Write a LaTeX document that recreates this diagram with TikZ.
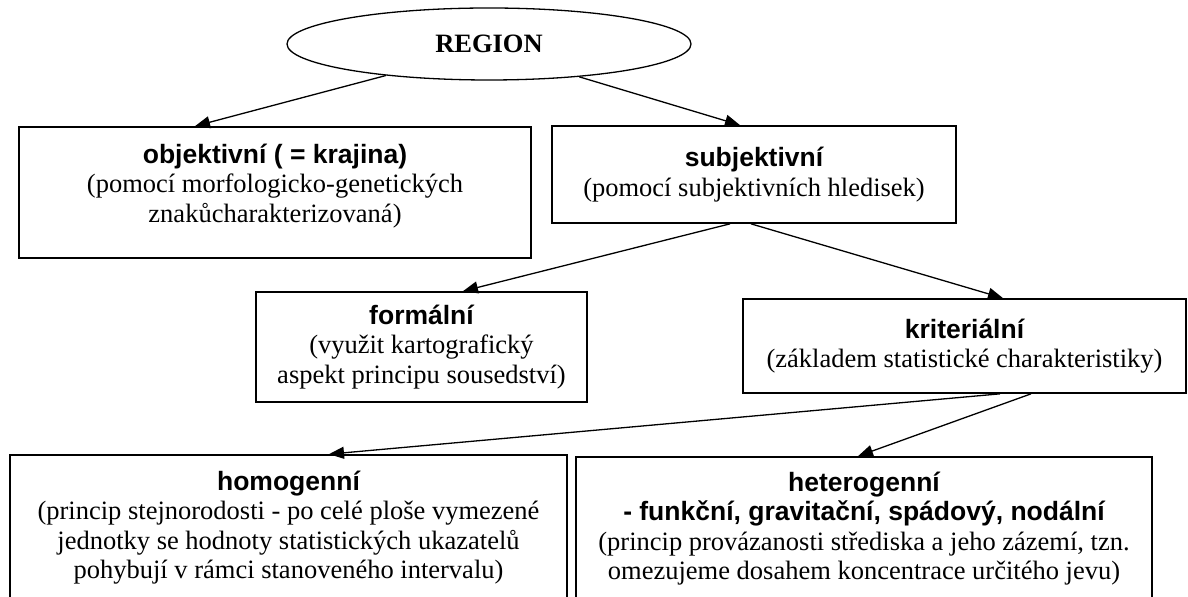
\documentclass[tikz,border=0pt]{standalone}
\usepackage{fontspec}
\setmainfont{Liberation Serif}
\setsansfont{Liberation Sans}
\usetikzlibrary{shapes.geometric,arrows.meta,calc}
\newcommand{\ttl}[1]{{\sffamily\bfseries #1}}

\begin{document}
\begin{tikzpicture}[x=0.5pt,y=-0.5pt]
              \useasboundingbox (0,0) rectangle (1188,597);
              \clip (0,0) rectangle (1188,597);
              \begin{scope}[every node/.style={draw=black, line width=0.85pt, align=center, inner sep=0pt, font=\fontsize{13.25}{14.65}\selectfont}]
                \node[ellipse, line width=0.65pt, minimum width=202pt, minimum height=36pt, font=\fontsize{13.25}{14.65}\selectfont\bfseries] (region) at (489,44) {REGION};
                \node[minimum width=256pt, minimum height=65.5pt, text depth=9.5pt] (objektivni) at (275,192.5) {\ttl{objektivní ( = krajina)}\\(pomocí morfologicko-genetických\\znakůcharakterizovaná)};
                \node[minimum width=202pt, minimum height=48.5pt] (subjektivni) at (754,174.5) {\ttl{subjektivní}\\(pomocí subjektivních hledisek)};
                \node[minimum width=165.5pt, minimum height=55pt] (formalni) at (421.5,347) {\ttl{formální}\\(využit kartografický\\aspekt principu sousedství)};
                \node[minimum width=221.5pt, minimum height=47pt] (kriterialni) at (964.5,346) {\ttl{kriteriální}\\(základem statistické charakteristiky)};
                \node[minimum width=278.5pt, minimum height=72.5pt] (homogenni) at (288.5,527.5) {\ttl{homogenní}\\(princip stejnorodosti - po celé ploše vymezené\\jednotky se hodnoty statistických ukazatelů\\pohybují v rámci stanoveného intervalu)};
                \node[minimum width=288pt, minimum height=71.5pt] (heterogenni) at (864,528.5) {\ttl{heterogenní}\\\ttl{- funkční, gravitační, spádový, nodální}\\(princip provázanosti střediska a jeho zázemí, tzn.\\omezujeme dosahem koncentrace určitého jevu)};
              \end{scope}
              \begin{scope}[every edge/.style={draw=black, line width=0.65pt, -{Triangle[length=7.5pt,width=6pt]}}]
                \path (region.197) edge ($(objektivni.north)+(-80,0)$);
                \path (region.340) edge ($(subjektivni.north)+(-14,0)$);
                \path ($(subjektivni.south)+(-24,0)$) edge ($(formalni.north)+(41.5,0)$);
                \path ($(subjektivni.south)+(-3,0)$) edge ($(kriterialni.north)+(38.5,0)$);
                \path ($(kriterialni.south)+(35.5,0)$) edge ($(homogenni.north)+(40.5,0)$);
                \path ($(kriterialni.south)+(66.5,0)$) edge ($(heterogenni.north)+(-6,0)$);
              \end{scope}
            \end{tikzpicture}
\end{document}
